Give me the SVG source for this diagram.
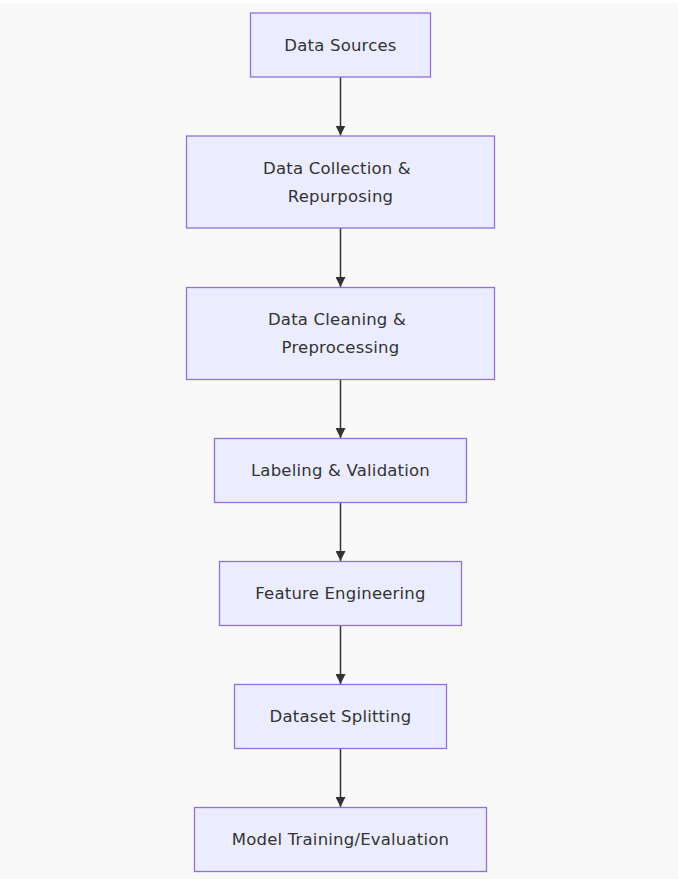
<svg xmlns="http://www.w3.org/2000/svg" width="678" height="879" viewBox="0 0 678 879">
<style>
.node rect{fill:#ECECFF;stroke:#9370DB;stroke-width:1.3}
.node text{font-family:"DejaVu Sans",Verdana,sans-serif;font-size:16.5px;letter-spacing:0.2px;fill:#333;text-anchor:middle;dominant-baseline:central}
.edge{stroke:#333;stroke-width:1.5;fill:none;marker-end:url(#arrow)}
</style>
<defs>
<marker id="arrow" viewBox="0 0 10 10" refX="10" refY="5" markerUnits="userSpaceOnUse" markerWidth="10" markerHeight="10" orient="auto">
<path d="M0,0 L10,5 L0,10 z" fill="#333"/>
</marker>
</defs>
<rect x="0" y="0" width="678" height="879" fill="#ffffff"/>
<rect x="0" y="3" width="678" height="876" fill="#f9f9f9"/>
<g id="connectors">
<line class="edge" x1="340.5" y1="77" x2="340.5" y2="135.5"/>
<line class="edge" x1="340.5" y1="228" x2="340.5" y2="287"/>
<line class="edge" x1="340.5" y1="379.5" x2="340.5" y2="438"/>
<line class="edge" x1="340.5" y1="502.5" x2="340.5" y2="561"/>
<line class="edge" x1="340.5" y1="625.5" x2="340.5" y2="684"/>
<line class="edge" x1="340.5" y1="748.5" x2="340.5" y2="807"/>
</g>
<g id="data-sources" class="node">
<rect x="250.5" y="13" width="180" height="64"/>
<text x="340.5" y="45">Data Sources</text>
</g>
<g id="data-collection" class="node">
<rect x="186.5" y="136" width="308" height="92"/>
<text x="337" y="168">Data Collection &amp;</text>
<text x="340.5" y="196">Repurposing</text>
</g>
<g id="data-cleaning" class="node">
<rect x="186.5" y="287.5" width="308" height="92"/>
<text x="337" y="319.5">Data Cleaning &amp;</text>
<text x="340.5" y="347.5">Preprocessing</text>
</g>
<g id="labeling" class="node">
<rect x="214.5" y="438.5" width="252" height="64"/>
<text x="340.5" y="470.5">Labeling &amp; Validation</text>
</g>
<g id="feature-engineering" class="node">
<rect x="219.5" y="561.5" width="242" height="64"/>
<text x="340.5" y="593.5">Feature Engineering</text>
</g>
<g id="dataset-splitting" class="node">
<rect x="234.5" y="684.5" width="212" height="64"/>
<text x="340.5" y="716.5">Dataset Splitting</text>
</g>
<g id="model-training" class="node">
<rect x="194.5" y="807.5" width="292" height="64"/>
<text x="340.5" y="839.5">Model Training/Evaluation</text>
</g>
</svg>
